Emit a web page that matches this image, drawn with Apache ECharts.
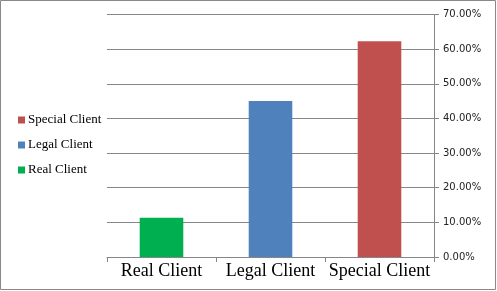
<!DOCTYPE html>
<html>
<head>
<meta charset="utf-8">
<script src="https://cdn.jsdelivr.net/npm/echarts@6/dist/echarts.min.js"></script>
<style>
html,body{margin:0;padding:0;background:#fff;}
#c{width:497px;height:291px;}
</style>
</head>
<body>
<div id="c"></div>
<script>
var categories = ['Real Client', 'Legal Client', 'Special Client'];
var seriesNames = ['Real Client', 'Legal Client', 'Special Client'];
var values = [11.3, 45.0, 62.3];
var colors = ['#00B050', '#4F81BD', '#C0504D'];
var yTicks = [0, 10, 20, 30, 40, 50, 60, 70];

var chart = echarts.init(document.getElementById('c'), null, {renderer: 'canvas'});

var series = seriesNames.map(function (name, i) {
  var d = categories.map(function (c, j) { return j === i ? values[i] : null; });
  return {
    name: name,
    type: 'bar',
    stack: 'all',
    data: d,
    barWidth: '40%',
    itemStyle: {color: colors[i]},
    emphasis: {disabled: true}
  };
});

chart.setOption({
  animation: false,
  backgroundColor: '#fff',
  graphic: [{
    type: 'rect',
    shape: {x: 0.5, y: 0.5, width: 495, height: 289},
    style: {fill: 'none', stroke: '#888', lineWidth: 1},
    silent: true
  }],
  legend: {
    orient: 'vertical',
    left: 13,
    top: 108,
    itemWidth: 7,
    itemHeight: 7,
    itemGap: 11,
    icon: 'rect',
    data: ['Special Client', 'Legal Client', 'Real Client'],
    textStyle: {fontFamily: 'Liberation Serif', fontSize: 13, color: '#000', lineHeight: 14, padding: [0, 0, 0, -2]}
  },
  grid: {left: 107, right: 63, top: 14.5, bottom: 34},
  xAxis: {
    type: 'category',
    data: categories,
    axisLine: {show: true, lineStyle: {color: '#868686', width: 1}},
    axisTick: {show: true, length: 5, lineStyle: {color: '#868686'}},
    axisLabel: {interval: 0, hideOverlap: false, fontFamily: 'Liberation Serif', fontSize: 18, color: '#000', margin: 5}
  },
  yAxis: {
    type: 'value',
    position: 'right',
    min: yTicks[0],
    max: yTicks[yTicks.length - 1],
    interval: 10,
    axisLine: {show: true, lineStyle: {color: '#868686', width: 1}},
    axisTick: {show: true, length: 5, lineStyle: {color: '#868686'}},
    splitLine: {show: true, lineStyle: {color: '#868686', width: 1}},
    axisLabel: {
      fontFamily: 'DejaVu Sans', fontSize: 10, color: '#222', margin: 9,
      formatter: function (v) { return v.toFixed(2) + '%'; }
    }
  },
  series: series
});
</script>
</body>
</html>
